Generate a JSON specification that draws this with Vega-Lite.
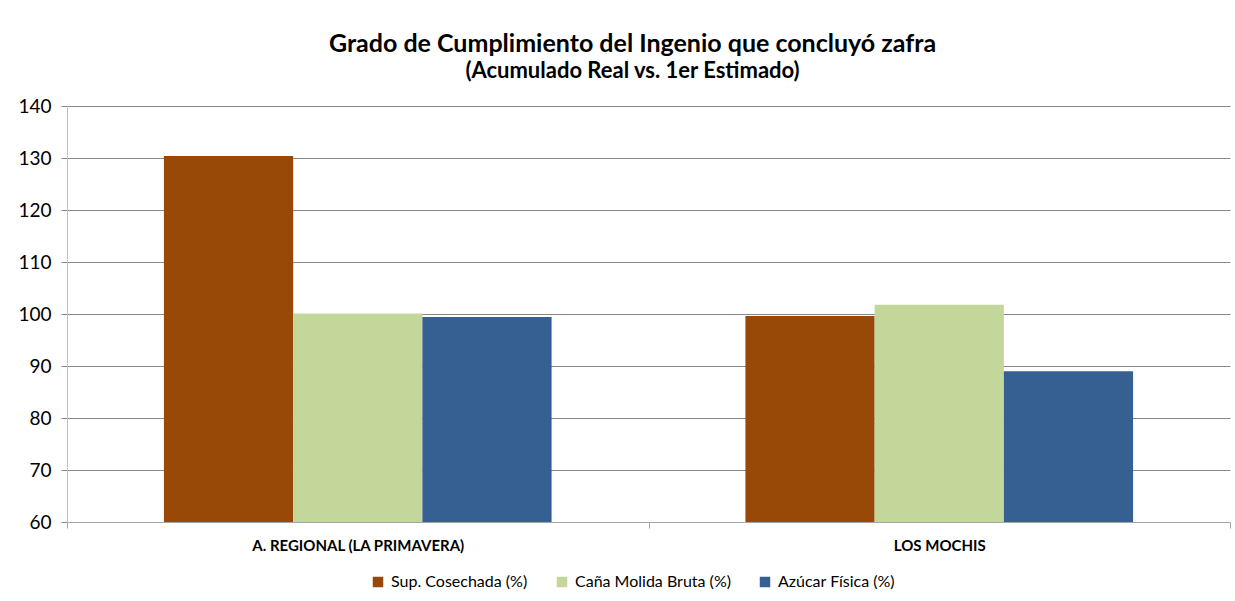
{
  "$schema": "https://vega.github.io/schema/vega-lite/v6.json",
  "width": 1163,
  "height": 416,
  "autosize": {"type": "none"},
  "padding": {"left": 67, "top": 106, "right": 5, "bottom": 79},
  "background": "white",
  "title": {
    "text": "Grado de Cumplimiento del Ingenio que concluyó zafra",
    "subtitle": "(Acumulado Real vs. 1er Estimado)",
    "font": "Lato",
    "fontSize": 25,
    "fontWeight": "bold",
    "color": "#000000",
    "subtitleFont": "Lato",
    "subtitleFontSize": 22,
    "subtitleFontWeight": "bold",
    "subtitleColor": "#000000",
    "subtitlePadding": 4,
    "anchor": "middle",
    "dx": -16,
    "offset": 15
  },
  "data": {
    "values": [
      {"ingenio": "A. REGIONAL (LA PRIMAVERA)", "serie": "Sup. Cosechada (%)", "valor": 130.4},
      {"ingenio": "A. REGIONAL (LA PRIMAVERA)", "serie": "Caña Molida Bruta (%)", "valor": 100.1},
      {"ingenio": "A. REGIONAL (LA PRIMAVERA)", "serie": "Azúcar Física (%)", "valor": 99.4},
      {"ingenio": "LOS MOCHIS", "serie": "Sup. Cosechada (%)", "valor": 99.6},
      {"ingenio": "LOS MOCHIS", "serie": "Caña Molida Bruta (%)", "valor": 101.8},
      {"ingenio": "LOS MOCHIS", "serie": "Azúcar Física (%)", "valor": 89.0}
    ]
  },
  "mark": {"type": "bar", "clip": true},
  "encoding": {
    "x": {
      "field": "ingenio",
      "type": "nominal",
      "sort": null,
      "title": null,
      "scale": {"paddingInner": 0, "paddingOuter": 0},
      "axis": {
        "labelAngle": 0,
        "labelFont": "Lato",
        "labelFontSize": 15,
        "labelFontWeight": "bold",
        "labelColor": "#000000",
        "labelPadding": 10,
        "labelLimit": 400,
        "tickBand": "extent",
        "tickSize": 6,
        "tickColor": "#a6a6a6",
        "domainColor": "#a6a6a6",
        "grid": false
      }
    },
    "xOffset": {
      "field": "serie",
      "type": "nominal",
      "sort": ["Sup. Cosechada (%)", "Caña Molida Bruta (%)", "Azúcar Física (%)"],
      "scale": {"paddingInner": 0, "paddingOuter": 0.75}
    },
    "y": {
      "field": "valor",
      "type": "quantitative",
      "title": null,
      "scale": {"domain": [60, 140], "nice": false, "zero": false},
      "axis": {
        "values": [60, 70, 80, 90, 100, 110, 120, 130, 140],
        "labelFont": "Lato",
        "labelFontSize": 19,
        "labelColor": "#000000",
        "labelPadding": 10,
        "tickSize": 6,
        "tickColor": "#868686",
        "domainColor": "#bfbfbf",
        "grid": true,
        "gridColor": "#868686",
        "gridWidth": 1
      }
    },
    "color": {
      "field": "serie",
      "type": "nominal",
      "sort": ["Sup. Cosechada (%)", "Caña Molida Bruta (%)", "Azúcar Física (%)"],
      "scale": {
        "domain": ["Sup. Cosechada (%)", "Caña Molida Bruta (%)", "Azúcar Física (%)"],
        "range": ["#984807", "#c4d79b", "#376092"]
      },
      "legend": {
        "title": null,
        "orient": "none",
        "direction": "horizontal",
        "legendX": 303,
        "legendY": 468,
        "symbolType": "square",
        "symbolSize": 110,
        "symbolStrokeWidth": 0,
        "labelFont": "Lato",
        "labelFontSize": 16,
        "labelColor": "#000000",
        "labelOffset": 5,
        "columnPadding": 26
      }
    }
  },
  "config": {
    "view": {"stroke": null}
  }
}
